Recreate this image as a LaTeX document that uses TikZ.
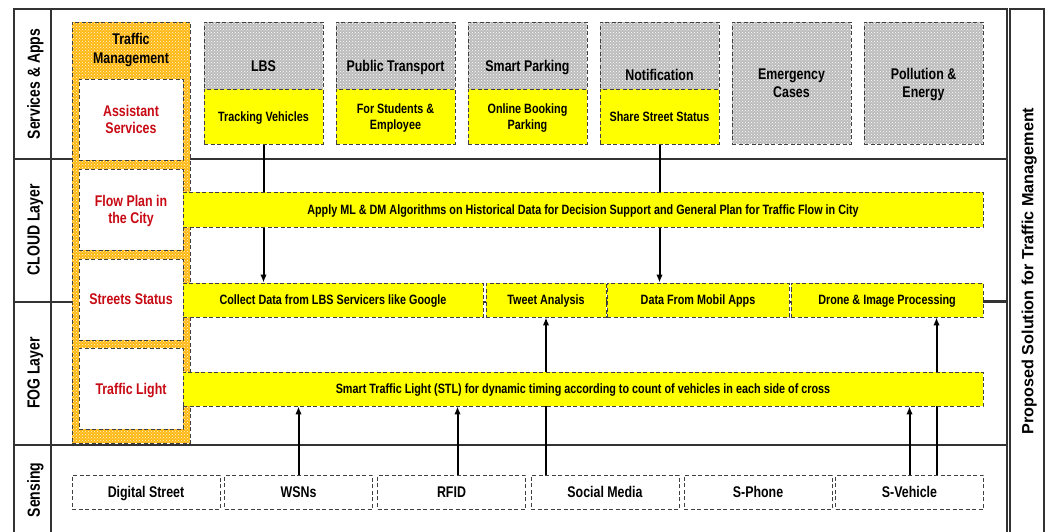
\documentclass[tikz,border=0pt]{standalone}
\usepackage{fontspec}
\setmainfont[FakeStretch=0.8]{Liberation Sans}
\newfontfamily\widefont{Liberation Sans}
\usetikzlibrary{positioning,arrows.meta,patterns}
\pgfdeclarelayer{background}
\pgfsetlayers{background,main}

\definecolor{stlyellow}{RGB}{255,255,0}
\definecolor{tmorange}{RGB}{255,185,20}
\definecolor{lblred}{RGB}{200,10,20}
\definecolor{hatchgray}{RGB}{188,188,188}

\begin{document}
\begin{tikzpicture}[x=1pt,y=-1pt,
    frameline/.style={draw=black!80, line width=1.3pt},
    dashbox/.style={rectangle, draw=black!75, line width=0.9pt, dash pattern=on 4pt off 2.5pt,
      inner sep=0pt, align=center, text=black, text depth=0pt},
    graybox/.style={dashbox, preaction={fill=hatchgray}, pattern=crosshatch dots, pattern color=white,
      minimum width=119, minimum height=122, font=\bfseries\fontsize{15.5}{17.7}\selectfont},
    graylabel/.style={inner sep=0pt, align=center, text depth=0pt, font=\bfseries\fontsize{15.5}{17.7}\selectfont},
    yellowbox/.style={dashbox, fill=stlyellow, font=\bfseries\fontsize{13.5}{16.5}\selectfont},
    orangebox/.style={dashbox, preaction={fill=tmorange}, pattern=crosshatch dots, pattern color=white!85!tmorange},
    redbox/.style={dashbox, fill=white, text=lblred, minimum width=104, minimum height=81,
      font=\bfseries\fontsize{15.5}{17.7}\selectfont},
    sensebox/.style={dashbox, fill=white, minimum width=148, minimum height=34,
      font=\bfseries\fontsize{15.5}{17.7}\selectfont},
    layername/.style={rotate=90, inner sep=0pt, text depth=0pt, font=\bfseries\fontsize{17.5}{20}\selectfont},
    dataarrow/.style={draw=black, line width=2pt, -{Latex[length=8pt,width=6.5pt]}}
  ]
  \useasboundingbox (0,0) rectangle (1053,532);
  \clip (0,0) rectangle (1053,532);

  % frame
  \draw[frameline] (14,9) rectangle (1007,545);
  \draw[frameline] (51,9) -- (51,545);
  \draw[frameline] (1010,9) rectangle (1044,545);
  \coordinate (frameR) at (1007,302);

  % layer names
  \node[layername] (l-apps) at (33.5,84) {Services \& Apps};
  \node[layername] (l-cloud) at (33.5,230) {CLOUD Layer};
  \node[layername] (l-fog) at (33.5,373) {FOG Layer};
  \node[layername] (l-sense) at (33.5,490) {Sensing};
  \node[layername, font=\widefont\bfseries\fontsize{16.2}{18}\selectfont] (l-sol) at (1027.5,271) {Proposed Solution for Traffic Management};

  % traffic management column
  \node[orangebox, minimum width=118, minimum height=421] (tm) at (131,232.5) {};
  \node[graylabel, font=\bfseries\fontsize{15.5}{19}\selectfont] (tm-label) at (131,48) {Traffic\\Management};
  \node[redbox] (assist) at (131,119.5) {Assistant\\Services};
  \node[redbox] (flowplan) at (131,209.5) {Flow Plan in\\the City};
  \node[redbox] (streets) at (131,299.5) {Streets Status};
  \node[redbox] (light) at (131,388.5) {Traffic Light};

  % services & apps
  \node[graybox] (lbs) at (263.5,83) {};
  \node[yellowbox, minimum width=119, minimum height=55] (track) at (263.5,116.5) {Tracking Vehicles};
  \node[graylabel] (lbs-label) at (263.5,66) {LBS};
  \node[graybox] (pub) at (395.5,83) {};
  \node[yellowbox, minimum width=119, minimum height=55] (students) at (395.5,116.5) {For Students \&\\Employee};
  \node[graylabel] (pub-label) at (395.5,66) {Public Transport};
  \node[graybox] (park) at (527.5,83) {};
  \node[yellowbox, minimum width=119, minimum height=55] (booking) at (527.5,116.5) {Online Booking\\Parking};
  \node[graylabel] (park-label) at (527.5,66) {Smart Parking};
  \node[graybox] (notif) at (659.5,83) {};
  \node[yellowbox, minimum width=119, minimum height=55] (share) at (659.5,116.5) {Share Street Status};
  \node[graylabel] (notif-label) at (659.5,75) {Notification};
  \node[graybox] (emerg) at (791.5,83) {Emergency\\Cases};
  \node[graybox] (poll) at (923.5,83) {Pollution \&\\Energy};

  % cloud layer
  \node[yellowbox, minimum width=800, minimum height=35] (apply) at (583,209.5)
    {Apply ML \& DM Algorithms on Historical Data for Decision Support and General Plan for Traffic Flow in City};

  % fog layer
  \node[yellowbox, minimum width=300, minimum height=34] (collect) at (333,300) {Collect Data from LBS Servicers like Google};
  \node[yellowbox, minimum width=120, minimum height=34] (tweet) at (546,300) {Tweet Analysis};
  \node[yellowbox, minimum width=182, minimum height=34] (mobil) at (698,300) {Data From Mobil Apps};
  \node[yellowbox, minimum width=192, minimum height=34] (drone) at (887,300) {Drone \& Image Processing};
  \node[yellowbox, minimum width=800, minimum height=34] (stl) at (583,389)
    {Smart Traffic Light (STL) for dynamic timing according to count of vehicles in each side of cross};

  % sensing
  \node[sensebox] (digital) at (146,492) {Digital Street};
  \node[sensebox] (wsn) at (298.5,492) {WSNs};
  \node[sensebox] (rfid) at (451.5,492) {RFID};
  \node[sensebox] (social) at (605,492) {Social Media};
  \node[sensebox] (sphone) at (758,492) {S-Phone};
  \node[sensebox] (svehicle) at (909.5,492) {S-Vehicle};
  \coordinate (rfid-up) at ([xshift=6pt]rfid.north);
  \coordinate (sv-up) at ([xshift=27pt]svehicle.north);

  \begin{pgfonlayer}{background}
    \draw[frameline] (14,159) -- (1007,159);
    \draw[frameline] (14,302) -- (1007,302);
    \draw[frameline] (14,445) -- (1007,445);
    \draw[dataarrow] (track.south) -- (track.south |- collect.north);
    \draw[dataarrow] (share.south) -- (share.south |- mobil.north);
    \draw[dataarrow] (tweet.south |- social.north) -- (tweet.south);
    \draw[dataarrow] (sv-up) -- (sv-up |- drone.south);
  \end{pgfonlayer}
  \draw[dataarrow] (wsn.north) -- (wsn.north |- stl.south);
  \draw[dataarrow] (rfid-up) -- (rfid-up |- stl.south);
  \draw[dataarrow] (svehicle.north) -- (svehicle.north |- stl.south);
  \draw[draw=black!80, line width=1pt] (drone.east) -- (drone.east -| frameR);
\end{tikzpicture}
\end{document}
